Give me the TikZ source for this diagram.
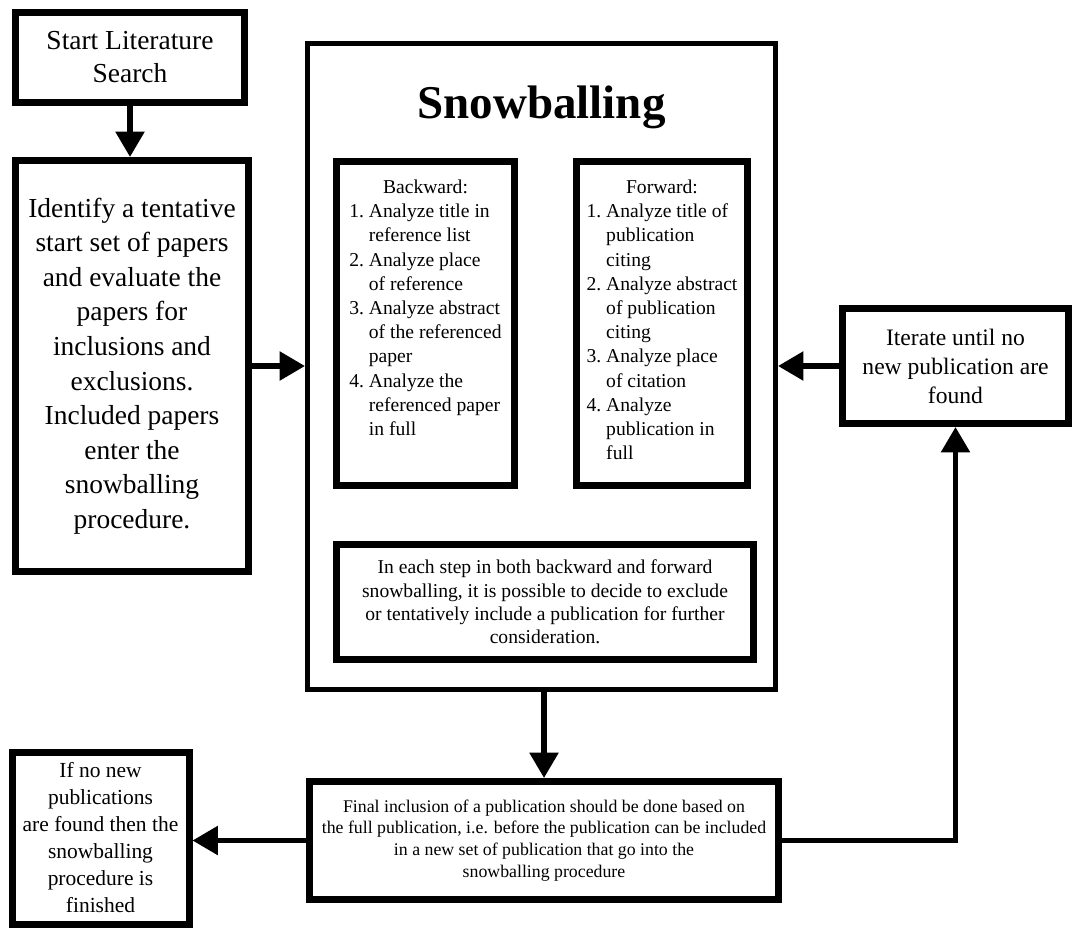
\documentclass[tikz,border=0pt]{standalone}
\usepackage{fontspec}
\setmainfont{Liberation Serif}
\usetikzlibrary{arrows.meta}

\tikzset{
  box/.style={draw, line width=5.25pt, inner sep=0pt, align=center},
  flow/.style={line width=4pt},
}
\newcommand{\fs}[2]{\fontsize{#1}{#2}\selectfont}

\begin{document}
\begin{tikzpicture}[x=0.75pt, y=-0.75pt, >={Triangle[length=19pt,width=21pt]}]
  \useasboundingbox (0,0) rectangle (1073,929);

  \node[box, minimum width=171.75pt, minimum height=67.5pt, font=\fs{20.6}{24.75}] (start) at (130,57.5) {Start Literature\\Search};
  \node[box, minimum width=174.75pt, minimum height=308.25pt, font=\fs{20.6}{25.9}] (ident) at (132,366)
    {Identify a tentative\\start set of papers\\and evaluate the\\papers for\\inclusions and\\exclusions.\\Included papers\\enter the\\snowballing\\procedure.};

  % snowballing block
  \node[box, line width=3.75pt, minimum width=351pt, minimum height=484.5pt] (snow) at (541.5,366.5) {};
  \node[font=\fs{35.25}{40}\bfseries, anchor=base] (title) at (541.5,118) {Snowballing};
  \node[box, minimum width=133.5pt, minimum height=243pt, font=\fs{14.7}{18.15}] (back) at (425.5,323.5) {Backward:\\
    \begin{tabular}[t]{@{}l@{\ }l@{}}
      1. & Analyze title in\\ & reference list\\
      2. & Analyze place\\ & of reference\\
      3. & Analyze abstract\\ & of the referenced\\ & paper\\
      4. & Analyze the\\ & referenced paper\\ & in full\\ &
    \end{tabular}};
  \node[box, minimum width=128.25pt, minimum height=243pt, font=\fs{14.7}{18.15}] (fwd) at (662,323.5) {Forward:\\
    \begin{tabular}[t]{@{}l@{\ }l@{}}
      1. & Analyze title of\\ & publication\\ & citing\\
      2. & Analyze abstract\\ & of publication\\ & citing\\
      3. & Analyze place\\ & of citation\\
      4. & Analyze\\ & publication in\\ & full
    \end{tabular}};
  \node[box, minimum width=312.75pt, minimum height=86.25pt, font=\fs{14.7}{17.5}] (note) at (545,602)
    {In each step in both backward and forward\\snowballing, it is possible to decide to exclude\\or tentatively include a publication for further\\consideration.};

  \node[box, minimum width=169.5pt, minimum height=86.25pt, font=\fs{17.7}{21.75}] (iter) at (955.5,366)
    {Iterate until no\\new publication are\\found};
  \node[box, minimum width=351.75pt, minimum height=88.5pt, font=\fs{13.35}{16.3}] (final) at (544,840.5)
    {Final inclusion of a publication should be done based on\\the full publication, i.e. before the publication can be included\\in a new set of publication that go into the\\snowballing procedure};
  \node[box, minimum width=132.75pt, minimum height=129pt, font=\fs{16.1}{20.25}] (done) at (100.5,838)
    {If no new\\publications\\are found then the\\snowballing\\procedure is\\finished};

  \draw[flow,->] (start.south) -- (start.south |- ident.north);
  \draw[flow,->] (ident.east) -- (ident.east -| snow.west);
  \draw[flow,->] (iter.west) -- (iter.west -| snow.east);
  \draw[flow,->] (snow.south -| final.north) -- (final.north);
  \draw[flow,->] (final.west) -- (final.west -| done.east);
  \draw[flow,->] (final.east) -| (iter.south);
\end{tikzpicture}
\end{document}
